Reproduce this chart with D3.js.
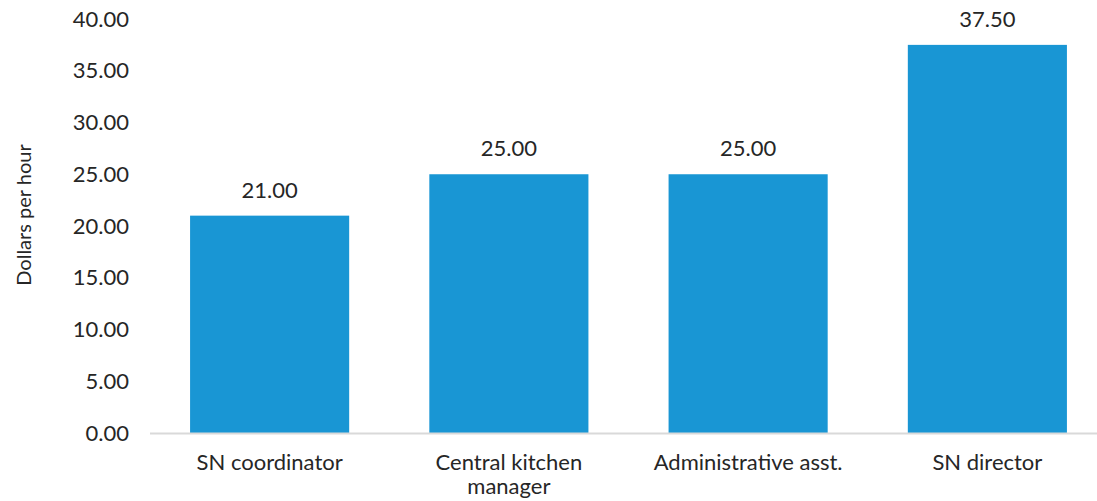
<!DOCTYPE html>
<html>
<head>
<meta charset="utf-8">
<script src="https://cdn.jsdelivr.net/npm/d3@7"></script>
<style>
  body { margin: 0; background: #fff; }
  text { font-family: Lato, "Open Sans", sans-serif; fill: #262626; }
</style>
</head>
<body>
<script>
// données
const categories = ["SN coordinator", "Central kitchen|manager", "Administrative asst.", "SN director"];
const valeurs = [21.00, 25.00, 25.00, 37.50];
const yTicks = [0, 5, 10, 15, 20, 25, 30, 35, 40];

const tableau = categories.map((c, i) => ({ cat: c, val: valeurs[i] }));

// marges
let margin = { top: 19, right: 0, bottom: 68, left: 150 };
let W = 1097, H = 501;
let height = H - margin.top - margin.bottom;

let svg = d3.select("body")
    .append("svg")
    .attr("width", W)
    .attr("height", H)
    .append("g")
    .attr("transform", "translate(" + margin.left + "," + margin.top + ")");

// échelles (la zone du graphique dépasse un peu à droite, comme l'original)
let x = d3.scaleBand()
    .domain(tableau.map(d => d.cat))
    .range([0, 957])
    .paddingInner(0.335)
    .paddingOuter(0.1675);

let y = d3.scaleLinear()
    .domain([0, 40])
    .range([height, 0]);

// axe Y (seulement les textes)
let axeY = svg.append("g")
    .attr("class", "axisY")
    .call(d3.axisLeft(y).tickValues(yTicks).tickFormat(d3.format(".2f")).tickSize(0).tickPadding(21));
axeY.select(".domain").remove();
axeY.selectAll("text")
    .style("font-size", "22px")
    .style("font-family", "Lato")
    .attr("fill", "#262626");

// barres
svg.append("g")
    .selectAll("rect")
    .data(tableau)
    .enter()
    .append("rect")
    .attr("x", d => x(d.cat))
    .attr("y", d => y(d.val))
    .attr("width", x.bandwidth())
    .attr("height", d => y(0) - y(d.val))
    .attr("fill", "#1996d4");

// ligne de base
svg.append("line")
    .attr("x1", 0)
    .attr("x2", W - margin.left)
    .attr("y1", y(0) + 0.5)
    .attr("y2", y(0) + 0.5)
    .attr("stroke", "#d9d9d9")
    .attr("stroke-width", 2);

// étiquettes des valeurs
svg.append("g")
    .selectAll("text")
    .data(tableau)
    .enter()
    .append("text")
    .attr("x", d => x(d.cat) + x.bandwidth() / 2)
    .attr("y", d => y(d.val) - 18)
    .attr("text-anchor", "middle")
    .style("font-size", "22px")
    .text(d => d3.format(".2f")(d.val));

// étiquettes des catégories (une ligne = un texte)
tableau.forEach(d => {
    d.cat.split("|").forEach((l, i) => {
        svg.append("text")
            .attr("x", x(d.cat) + x.bandwidth() / 2)
            .attr("y", height + 37 + i * 24)
            .attr("text-anchor", "middle")
            .style("font-size", "22px")
            .text(l);
    });
});

// titre de l'axe Y
svg.append("text")
    .text("Dollars per hour")
    .attr("text-anchor", "middle")
    .attr("transform", "translate(" + (31 - margin.left) + "," + (height / 2 - 11) + ") rotate(-90)")
    .style("font-size", "20px");
</script>
</body>
</html>
